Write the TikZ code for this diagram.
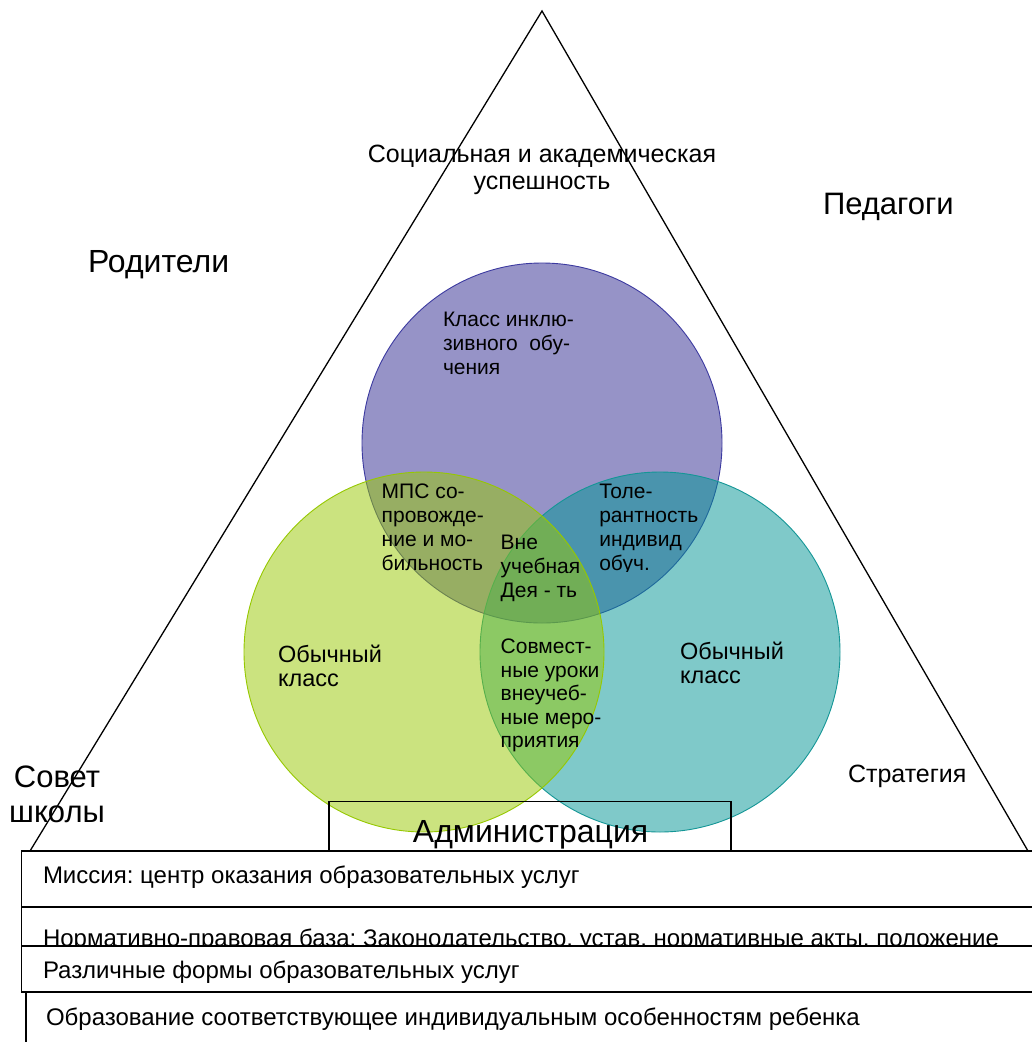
\documentclass[tikz,border=0pt]{standalone}
\usepackage{fontspec}
\setmainfont{Liberation Sans}
\frenchspacing
\definecolor{purp}{RGB}{47,41,145}
\definecolor{grn}{RGB}{153,201,1}
\definecolor{tea}{RGB}{0,149,149}
\definecolor{purpline}{RGB}{60,58,160}
\definecolor{grnline}{RGB}{150,200,0}
\definecolor{tealine}{RGB}{20,150,150}
\newcommand\myrowsL[2]{\vtop{\baselineskip=#1pt\lineskiplimit=-100pt\halign{##\hfil\cr#2\crcr}}}
\newcommand\myrowsC[2]{\vtop{\baselineskip=#1pt\lineskiplimit=-100pt\halign{\hfil##\hfil\cr#2\crcr}}}
\begin{document}
\begin{tikzpicture}[x=1pt,y=-1pt,
  ring/.style={circle, inner sep=0pt, minimum size=360pt, fill opacity=0.5, line width=0.9pt},
  txt/.style={inner sep=0pt, outer sep=0pt, anchor=base west, text=black},
  ctxt/.style={inner sep=0pt, outer sep=0pt, anchor=base, text=black},
  frame/.style={line width=1.4pt, draw=black},
  side/.style={line width=1.3pt, draw=black}]
\useasboundingbox (0,0) rectangle (1032,1042);
\fill[white] (0,0) rectangle (1032,1042);
% circles
\node[ring, fill=purp, draw=purpline] (purple) at (542,443) {};
\node[ring, fill=tea, draw=tealine] (teal) at (660,652) {};
\node[ring, fill=grn, draw=grnline] (green) at (424,652) {};
% triangle
\coordinate (apex) at (542,11);
\coordinate (bl) at (30,851);
\coordinate (br) at (1028,851);
\draw[side] (bl) -- (apex) -- (br);
% administration box
\draw[frame] (329,801.5) rectangle (731,851);
% bottom boxes
\draw[frame, fill=white] (21.7,851) rectangle (1045,907);
\draw[frame, fill=white] (21.7,907) rectangle (1045,970);
\node[txt, font=\fontsize{24}{28}\selectfont] (norm) at (43,946) {Нормативно-правовая база: Законодательство, устав, нормативные акты, положение};
\draw[frame, fill=white] (21.7,946) rectangle (1045,992);
\draw[frame] (26,992) -- (26,1050);
% bottom texts
\node[txt, font=\fontsize{24}{28}\selectfont] (mission) at (43,883) {Миссия: центр оказания образовательных услуг};
\node[txt, font=\fontsize{24}{28}\selectfont] (forms) at (43,978) {Различные формы образовательных услуг};
\node[txt, font=\fontsize{24}{28}\selectfont] (edu) at (46,1025) {Образование соответствующее индивидуальным особенностям ребенка};
% outer labels
\node[ctxt, font=\fontsize{25}{28}\selectfont] (success) at (542,162) {\myrowsC{27}{Социальная и академическая\cr успешность}};
\node[txt, font=\fontsize{32}{36}\selectfont] (parents) at (88,272) {Родители};
\node[txt, font=\fontsize{31}{36}\selectfont] (teachers) at (823,214) {Педагоги};
\node[ctxt, font=\fontsize{31}{36}\selectfont] (council) at (57,787) {\myrowsC{35}{Совет\cr школы}};
\node[txt, font=\fontsize{25}{28}\selectfont] (strategy) at (848,782) {Стратегия};
\node[ctxt, font=\fontsize{32}{36}\selectfont] (admin) at (530.6,842) {Администрация};
% circle texts
\node[txt, font=\fontsize{21}{24}\selectfont] (inclusive) at (443,326) {\myrowsL{24}{Класс инклю-\cr зивного\ \ обу-\cr чения}};
\node[txt, font=\fontsize{21}{24}\selectfont] (mps) at (381.7,498) {\myrowsL{24}{МПС со-\cr провожде-\cr ние и мо-\cr бильность}};
\begin{scope}
\clip (590,470) rectangle (720,571.5);
\node[txt, font=\fontsize{21}{24}\selectfont] (toler) at (599.3,498) {\myrowsL{24}{Толе-\cr рантность\cr индивид\cr обуч.}};
\end{scope}
\node[txt, font=\fontsize{21}{24}\selectfont] (extra) at (500.7,549.5) {\myrowsL{24}{Вне\cr учебная\cr Дея - ть}};
\node[txt, font=\fontsize{21}{24}\selectfont] (joint) at (500.7,653.5) {\myrowsL{23.6}{Совмест-\cr ные уроки\cr внеучеб-\cr ные меро-\cr приятия}};
\node[txt, font=\fontsize{23.5}{24}\selectfont] (regL) at (278,662) {\myrowsL{24}{Обычный\cr класс}};
\node[txt, font=\fontsize{23.5}{24}\selectfont] (regR) at (680,659.5) {\myrowsL{24}{Обычный\cr класс}};
\end{tikzpicture}
\end{document}
